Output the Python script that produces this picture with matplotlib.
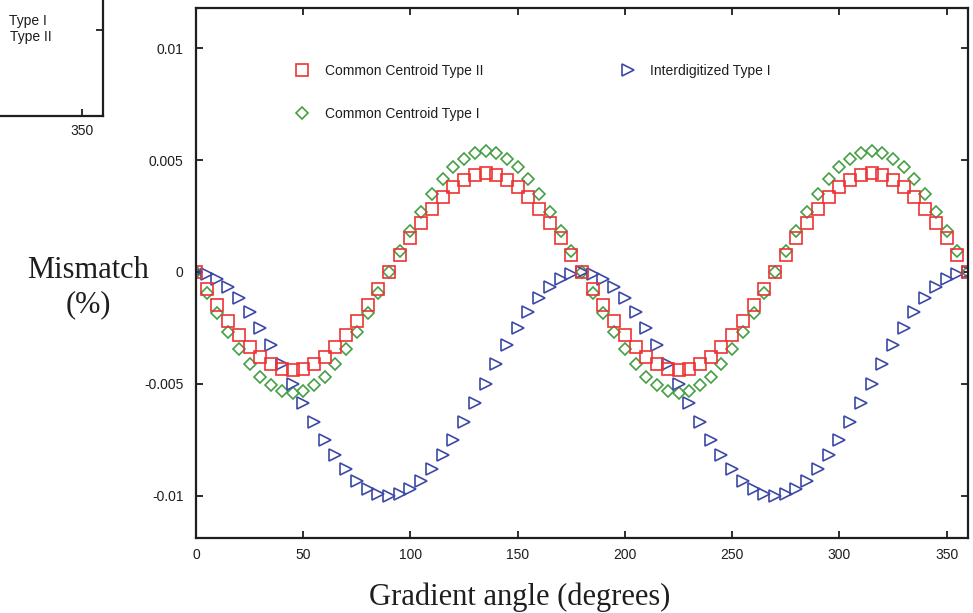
import matplotlib
matplotlib.use("Agg")
import matplotlib.pyplot as plt

# gradient angle, degrees (one point every 5 degrees)
angles = list(range(0, 365, 5))

# mismatch (%)
common_centroid_2 = [
    0, -0.00076, -0.00150, -0.00220, -0.00283, -0.00337, -0.00381, -0.00413, -0.00433,
    -0.00440, -0.00433, -0.00413, -0.00381, -0.00337, -0.00283, -0.00220, -0.00150, -0.00076,
    0, 0.00076, 0.00150, 0.00220, 0.00283, 0.00337, 0.00381, 0.00413, 0.00433,
    0.00440, 0.00433, 0.00413, 0.00381, 0.00337, 0.00283, 0.00220, 0.00150, 0.00076,
    0, -0.00076, -0.00150, -0.00220, -0.00283, -0.00337, -0.00381, -0.00413, -0.00433,
    -0.00440, -0.00433, -0.00413, -0.00381, -0.00337, -0.00283, -0.00220, -0.00150, -0.00076,
    0, 0.00076, 0.00150, 0.00220, 0.00283, 0.00337, 0.00381, 0.00413, 0.00433,
    0.00440, 0.00433, 0.00413, 0.00381, 0.00337, 0.00283, 0.00220, 0.00150, 0.00076,
    0,
]
common_centroid_1 = [
    0, -0.00094, -0.00185, -0.00270, -0.00347, -0.00414, -0.00468, -0.00507, -0.00532,
    -0.00540, -0.00532, -0.00507, -0.00468, -0.00414, -0.00347, -0.00270, -0.00185, -0.00094,
    0, 0.00094, 0.00185, 0.00270, 0.00347, 0.00414, 0.00468, 0.00507, 0.00532,
    0.00540, 0.00532, 0.00507, 0.00468, 0.00414, 0.00347, 0.00270, 0.00185, 0.00094,
    0, -0.00094, -0.00185, -0.00270, -0.00347, -0.00414, -0.00468, -0.00507, -0.00532,
    -0.00540, -0.00532, -0.00507, -0.00468, -0.00414, -0.00347, -0.00270, -0.00185, -0.00094,
    0, 0.00094, 0.00185, 0.00270, 0.00347, 0.00414, 0.00468, 0.00507, 0.00532,
    0.00540, 0.00532, 0.00507, 0.00468, 0.00414, 0.00347, 0.00270, 0.00185, 0.00094,
    0,
]
interdigitized_1 = [
    0, -0.00008, -0.00030, -0.00067, -0.00117, -0.00179, -0.00250, -0.00329, -0.00413,
    -0.00500, -0.00587, -0.00671, -0.00750, -0.00821, -0.00883, -0.00933, -0.00970, -0.00992,
    -0.01000, -0.00992, -0.00970, -0.00933, -0.00883, -0.00821, -0.00750, -0.00671, -0.00587,
    -0.00500, -0.00413, -0.00329, -0.00250, -0.00179, -0.00117, -0.00067, -0.00030, -0.00008,
    0, -0.00008, -0.00030, -0.00067, -0.00117, -0.00179, -0.00250, -0.00329, -0.00413,
    -0.00500, -0.00587, -0.00671, -0.00750, -0.00821, -0.00883, -0.00933, -0.00970, -0.00992,
    -0.01000, -0.00992, -0.00970, -0.00933, -0.00883, -0.00821, -0.00750, -0.00671, -0.00587,
    -0.00500, -0.00413, -0.00329, -0.00250, -0.00179, -0.00117, -0.00067, -0.00030, -0.00008,
    0,
]

x_ticks = [0, 50, 100, 150, 200, 250, 300, 350]
y_ticks = [0.01, 0.005, 0, -0.005, -0.01]
y_tick_labels = ["0.01", "0.005", "0", "-0.005", "-0.01"]

RED = "#ee3333"
GREEN = "#45a045"
BLUE = "#3c4aa6"
INK = "#1e1e1e"
SANS = ["Liberation Sans", "DejaVu Sans"]
SERIF = ["Liberation Serif", "DejaVu Serif"]

W, H = 973, 613
fig = plt.figure(figsize=(W / 100, H / 100), dpi=100)


def px_box(left, top, right, bottom):
    """Figure-fraction rectangle from pixel edges (origin top-left)."""
    return [left / W, 1 - bottom / H, (right - left) / W, (bottom - top) / H]


def style_spines(ax):
    for side in ax.spines.values():
        side.set_linewidth(1.6)
        side.set_color(INK)


# leftover of a neighbouring chart, cut by the left edge
ax_left = fig.add_axes(px_box(-653, -414, 103, 116))
ax_left.set_xlim(0, 360)
ax_left.set_ylim(0, 1)
ax_left.set_xticks([350])
ax_left.set_yticks([0.1623])
ax_left.tick_params(direction="in", length=5, width=1.3, top=True, right=True,
                    labelleft=False, colors=INK, labelsize=10, pad=6)
for lab in ax_left.get_xticklabels():
    lab.set_family(SANS)
style_spines(ax_left)
fig.text(28 / W, 1 - 21 / H, "Type I", ha="center", va="center", family=SANS,
         fontsize=10, color=INK)
fig.text(31 / W, 1 - 37 / H, "Type II", ha="center", va="center", family=SANS,
         fontsize=10, color=INK)

# main chart
ax = fig.add_axes(px_box(196, 8, 968, 538))
green_line, = ax.plot(angles, common_centroid_1, linestyle="none", marker="D",
                      markersize=6.4, markerfacecolor="none", markeredgecolor=GREEN,
                      markeredgewidth=1.2, label="Common Centroid Type I")
blue_line, = ax.plot(angles, interdigitized_1, linestyle="none", marker=">",
                     markersize=9, markerfacecolor="none", markeredgecolor=BLUE,
                     markeredgewidth=1.2, label="Interdigitized Type I")
red_line, = ax.plot(angles, common_centroid_2, linestyle="none", marker="s",
                    markersize=8.5, markerfacecolor="none", markeredgecolor=RED,
                    markeredgewidth=1.2, label="Common Centroid Type II")

ax.set_xlim(0, 360)
ax.set_ylim(-0.0119, 0.0118)
ax.set_xticks(x_ticks)
ax.set_yticks(y_ticks)
ax.set_yticklabels(y_tick_labels)
ax.tick_params(direction="in", length=5, width=1.3, top=True, right=True,
               colors=INK, labelsize=10)
ax.tick_params(axis="y", pad=9)
ax.tick_params(axis="x", pad=7)
for lab in ax.get_xticklabels() + ax.get_yticklabels():
    lab.set_family(SANS)
style_spines(ax)

leg_kw = dict(frameon=False, loc="upper left", handlelength=1.0, handletextpad=1.15,
              borderpad=0, borderaxespad=0, labelspacing=2.1,
              prop={"family": SANS, "size": 10}, labelcolor=INK)
leg1 = ax.legend(handles=[red_line, green_line], bbox_to_anchor=(0.128, 0.894), **leg_kw)
ax.add_artist(leg1)
ax.legend(handles=[blue_line], bbox_to_anchor=(0.550, 0.894), **leg_kw)

fig.text(520 / W, 1 - 597 / H, "Gradient angle (degrees)", ha="center", va="center",
         family=SERIF, fontsize=22, color=INK)
fig.text(88 / W, 1 - 270 / H, "Mismatch", ha="center", va="center",
         family=SERIF, fontsize=22, color=INK)
fig.text(88 / W, 1 - 305 / H, "(%)", ha="center", va="center",
         family=SERIF, fontsize=22, color=INK)

fig.savefig("out.png", dpi=100)
